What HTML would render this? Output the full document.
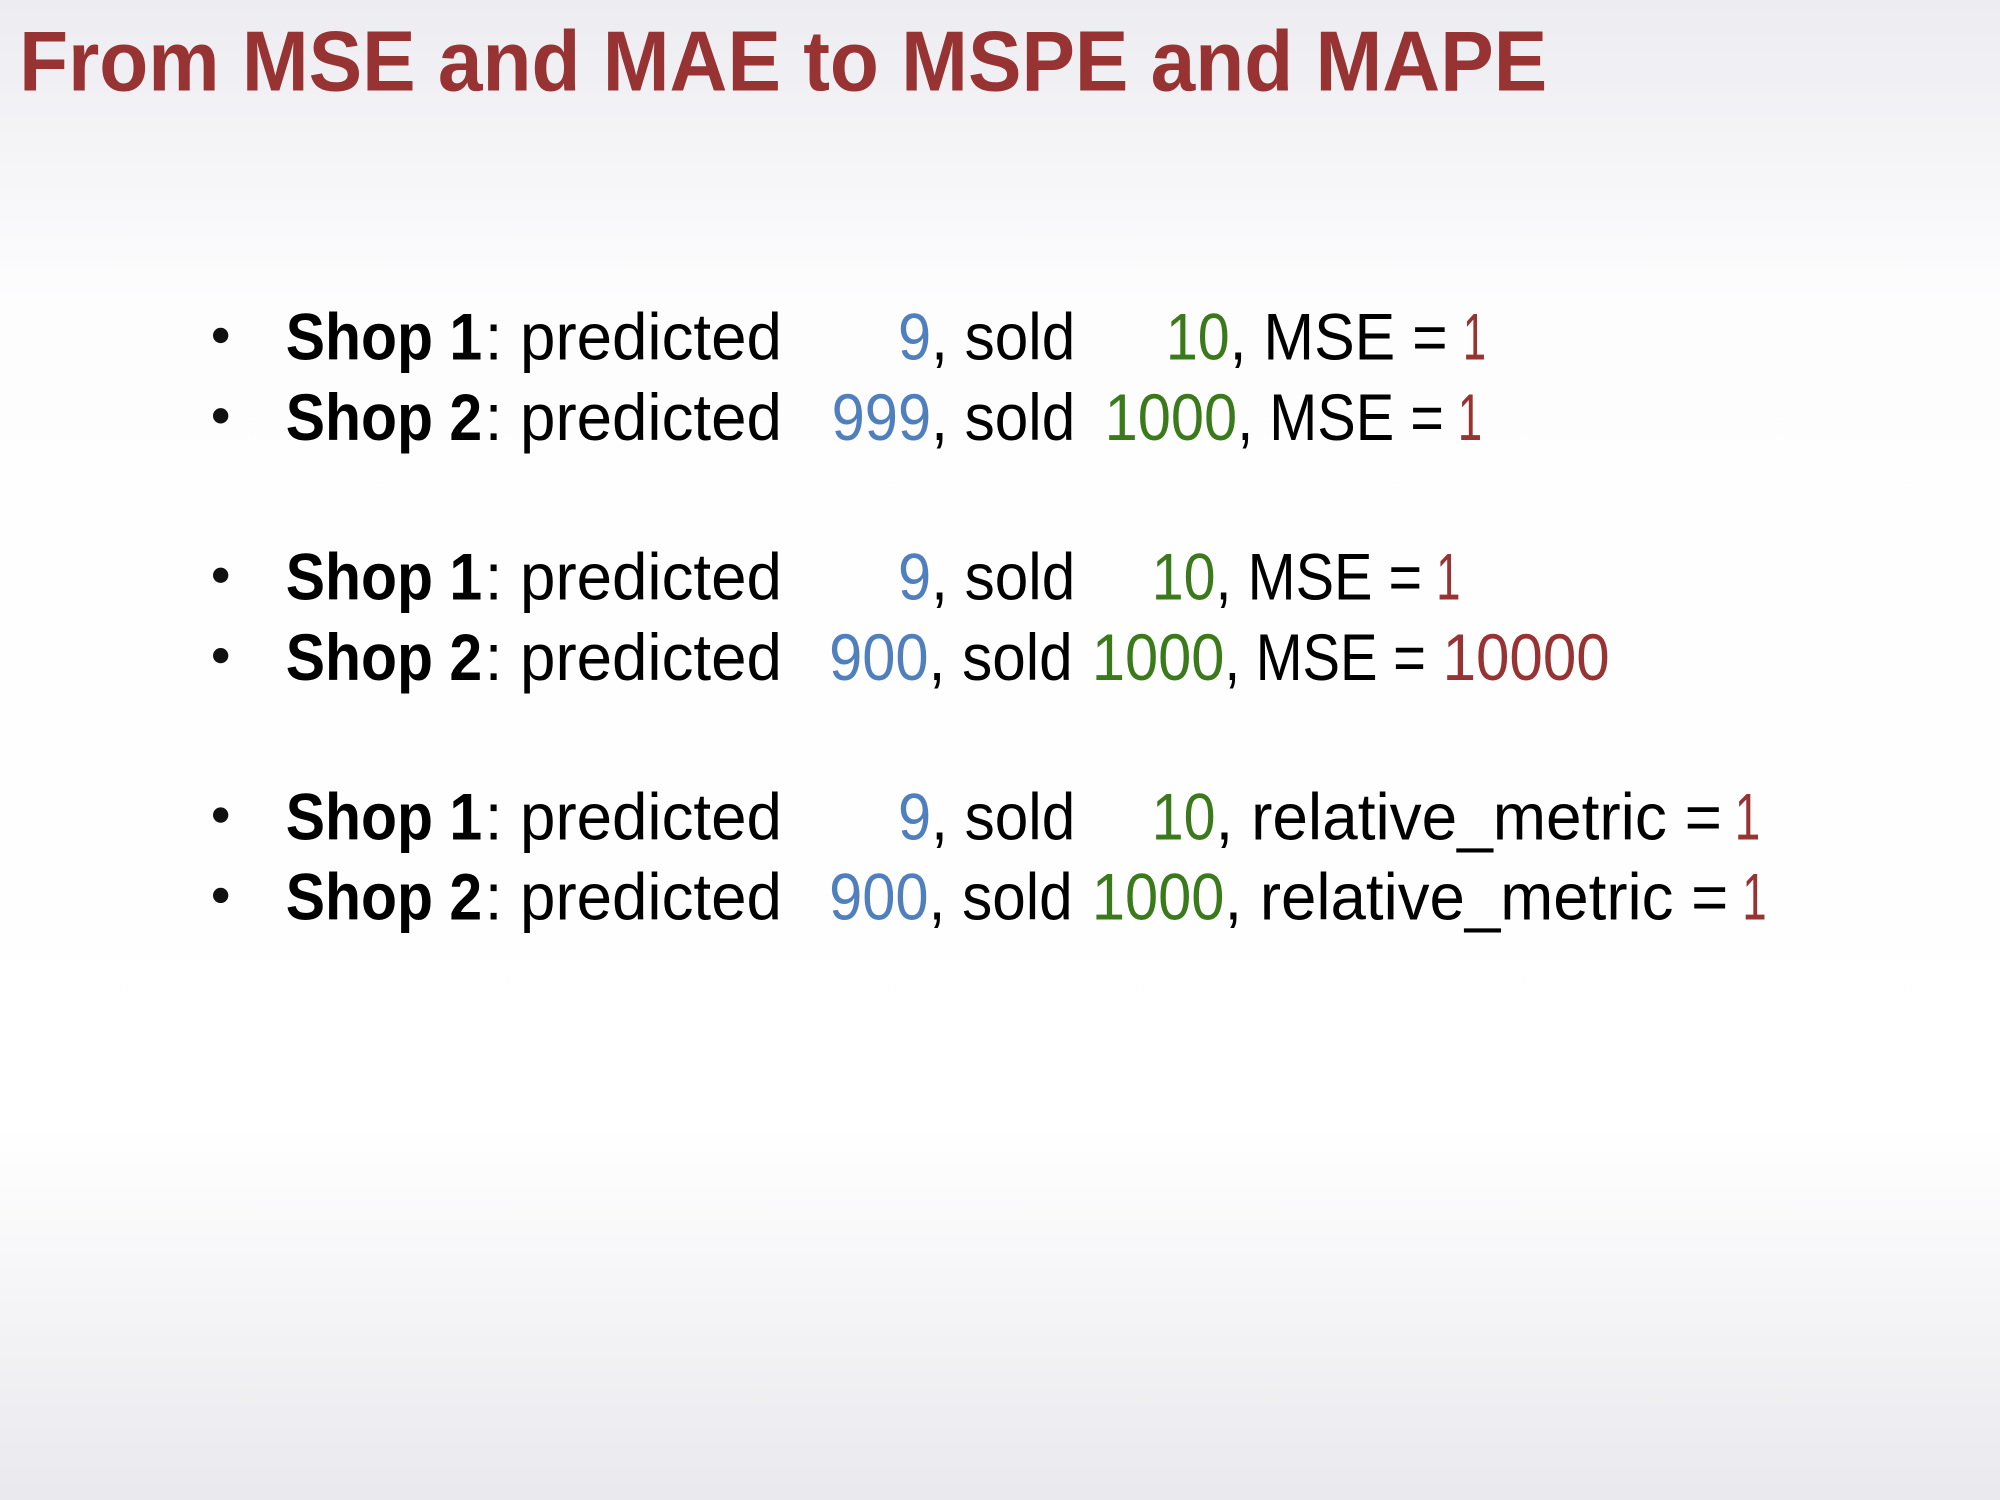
<!DOCTYPE html>
<html><head><meta charset="utf-8"><style>
html,body{margin:0;padding:0;width:2000px;height:1500px;overflow:hidden}
svg{display:block}
text{font-family:"Liberation Sans",sans-serif}
</style></head><body>
<svg width="2000" height="1500" viewBox="0 0 1568 1176" xmlns="http://www.w3.org/2000/svg">
<defs><linearGradient id="bg" x1="0" y1="0" x2="0" y2="1">
<stop offset="0" stop-color="#ececf1"/><stop offset="0.2" stop-color="#fdfdfe"/><stop offset="0.75" stop-color="#ffffff"/><stop offset="1" stop-color="#e9e9ee"/></linearGradient></defs>
<rect width="1568" height="1176" fill="url(#bg)"/>
<text x="15" y="71" font-size="67" font-weight="bold" fill="#973332" textLength="1198" lengthAdjust="spacingAndGlyphs">From MSE and MAE to MSPE and MAPE</text>
<g font-size="52" id="rows"></g>
</svg>
<script>
const rowsY=[282,345,470,533,658,721];
const rows=[
 {p:"9",pe:730,s:"10",ss:914,se:964,m:",  MSE = ",me:1135,v:"1",vs:1147,ve:1165,shop:"1"},
 {p:"999",pe:730,s:"1000",ss:866,se:970,m:", MSE = ",me:1132,v:"1",vs:1143,ve:1162,shop:"2"},
 {p:"9",pe:730,s:"10",ss:903,se:953,m:", MSE = ",me:1115,v:"1",vs:1126,ve:1145,shop:"1"},
 {p:"900",pe:728,s:"1000",ss:856,se:960,m:", MSE = ",me:1118,v:"10000",vs:1131,ve:1262,shop:"2"},
 {p:"9",pe:730,s:"10",ss:903,se:953,m:", relative_metric = ",me:1350,v:"1",vs:1360,ve:1380,shop:"1"},
 {p:"900",pe:728,s:"1000",ss:856,se:960,m:", relative_metric = ",me:1355,v:"1",vs:1366,ve:1385,shop:"2"}
];
const g=document.getElementById('rows');
const NS="http://www.w3.org/2000/svg";
function t(str,x,y,w,fill,bold,name,anchor){
 const e=document.createElementNS(NS,'text');
 e.setAttribute('x',x);e.setAttribute('y',y);e.setAttribute('fill',fill);
 if(bold)e.setAttribute('font-weight','bold');
 if(w){e.setAttribute('textLength',w);e.setAttribute('lengthAdjust','spacingAndGlyphs');}
 if(anchor)e.setAttribute('text-anchor',anchor);
 e.setAttribute('xml:space','preserve');
 e.textContent=str;
 
 
 g.appendChild(e);
}
rows.forEach((r,i)=>{
 const y=rowsY[i];
 const c=document.createElementNS(NS,'circle');
 c.setAttribute('cx',173);c.setAttribute('cy',y-19);c.setAttribute('r',6);c.setAttribute('fill','#111');
 
 
 g.appendChild(c);
 t("Shop "+r.shop,224,y,154,'#000',true,'shop-label');
 t(": predicted",380,y,233,'#000',false,'predicted-label');
 const pw=r.p.length*26;
 t(r.p,r.pe-pw,y,pw,'#4f7fbd',false,'predicted-value');
 t(", sold",r.pe,y,113,'#000',false,'sold-label');
 t(r.s,r.ss,y,r.se-r.ss,'#3b7a1a',false,'sold-value');
 t(r.m,r.se,y,r.me-r.se,'#000',false,'metric-label');
 t(r.v,r.vs,y,r.ve-r.vs,'#973332',false,'metric-value');
});
</script>
</body></html>
